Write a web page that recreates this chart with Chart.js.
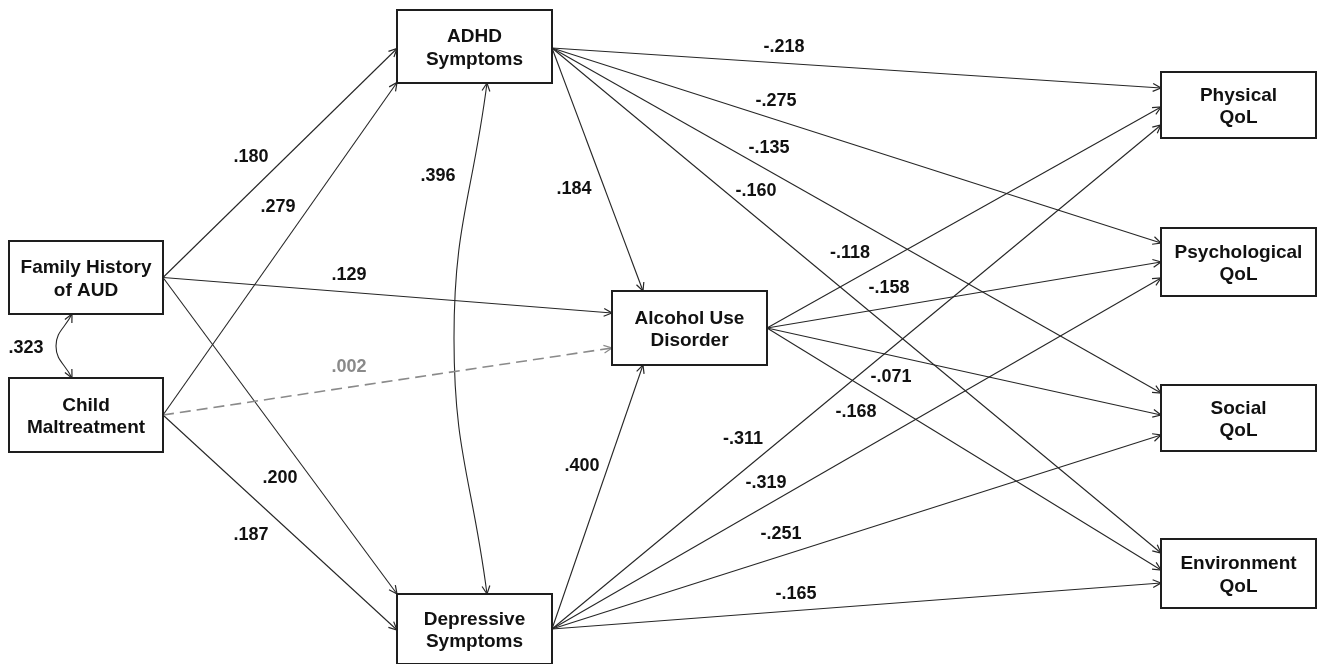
<!DOCTYPE html>
<html>
<head>
<meta charset="utf-8">
<script src="https://cdn.jsdelivr.net/npm/chart.js@4.4.1/dist/chart.umd.min.js"></script>
<style>
  html, body { margin: 0; padding: 0; background: #fff; }
  canvas { display: block; }
</style>
</head>
<body>
<canvas id="sem" width="1320" height="664"></canvas>
<script>
// Variables of the model (boxes)
const nodeNames = [
    ['Family History', 'of AUD'],
    ['Child', 'Maltreatment'],
    ['ADHD', 'Symptoms'],
    ['Depressive', 'Symptoms'],
    ['Alcohol Use', 'Disorder'],
    ['Physical', 'QoL'],
    ['Psychological', 'QoL'],
    ['Social', 'QoL'],
    ['Environment', 'QoL']
];
// box layout (left, top, width, height) in diagram units
const nodeLeft = [9, 9, 397, 397, 612, 1161, 1161, 1161, 1161];
const nodeTop = [241, 378, 10, 594, 291, 72, 228, 385, 539];
const nodeWidth = [154, 154, 155, 155, 155, 155, 155, 155, 155];
const nodeHeight = [73, 74, 73, 70, 74, 66, 68, 66, 69];

// Paths: from -> to and standardized coefficients
const pathFrom = [0, 1, 0, 1, 0, 1, 2, 2, 3, 2, 2, 2, 2, 4, 4, 4, 4, 3, 3, 3, 3, 0];
const pathTo   = [2, 2, 4, 4, 3, 3, 3, 4, 4, 5, 6, 7, 8, 5, 6, 7, 8, 5, 6, 7, 8, 1];
const pathCoef = [0.180, 0.279, 0.129, 0.002, 0.200, 0.187, 0.396, 0.184, 0.400,
                  -0.218, -0.275, -0.135, -0.160, -0.118, -0.158, -0.071, -0.168,
                  -0.311, -0.319, -0.251, -0.165, 0.323];
const pathSignificant = [1, 1, 1, 0, 1, 1, 1, 1, 1, 1, 1, 1, 1, 1, 1, 1, 1, 1, 1, 1, 1, 1];
const pathCorrelation = [0, 0, 0, 0, 0, 0, 1, 0, 0, 0, 0, 0, 0, 0, 0, 0, 0, 0, 0, 0, 0, 1];

// where each path leaves / enters a box (side + offset from side centre)
const fromSide = ['r','r','r','r','r','r','b','r','r','r','r','r','r','r','r','r','r','r','r','r','r','b'];
const fromOff  = [0, 0, 0, 0, 0, 0, 12.5, 1.5, 0, 1.5, 1.5, 1.5, 1.5, 0, 0, 0, 0, 0, 0, 0, 0, -14];
const toSide   = ['l','l','l','l','l','l','t','t','b','l','l','l','l','l','l','l','l','l','l','l','l','t'];
const toOff    = [2, 36, -15, 20, -35, 1, 12.5, -46.5, -46.5, -17, -19, -25, -20.5, 2, 0, -3, -3.5, 20, 16, 17, 9.5, -14];
const pathBend = [0, 0, 0, 0, 0, 0, -33, 0, 0, 0, 0, 0, 0, 0, 0, 0, 0, 0, 0, 0, 0, -16];

// coefficient label placement
const labelX = [251, 278, 349, 349, 280, 251, 438, 574, 582, 784, 776, 769, 756, 850, 889, 891, 856, 743, 766, 781, 796, 26];
const labelY = [156, 206, 274, 366, 477, 534, 175, 188, 465, 46, 100, 147, 190, 252, 287, 376, 411, 438, 482, 533, 593, 347];

function anchor(n, side, off) {
    const l = nodeLeft[n], t = nodeTop[n], w = nodeWidth[n], h = nodeHeight[n];
    if (side === 'r') return { x: l + w, y: t + h / 2 + off };
    if (side === 'l') return { x: l, y: t + h / 2 + off };
    if (side === 't') return { x: l + w / 2 + off, y: t };
    return { x: l + w / 2 + off, y: t + h };
}

function fmt(v) {
    return (v < 0 ? '-' : '') + Math.abs(v).toFixed(3).slice(1);
}

const datasets = pathFrom.map((f, i) => {
    const a = anchor(f, fromSide[i], fromOff[i]);
    const b = anchor(pathTo[i], toSide[i], toOff[i]);
    const pts = pathBend[i] ? [a, { x: (a.x + b.x) / 2 + pathBend[i], y: (a.y + b.y) / 2 }, b] : [a, b];
    const ns = !pathSignificant[i];
    return {
        label: fmt(pathCoef[i]),
        data: pts,
        showLine: true,
        pointRadius: 0,
        borderColor: ns ? '#8a8a8a' : '#262626',
        borderWidth: ns ? 1.6 : 1.1,
        borderDash: ns ? [11, 6] : [],
        tension: pathBend[i] ? 0.45 : 0,
        clip: false
    };
});

function arrowHead(ctx, x, y, fx, fy) {
    const ang = Math.atan2(y - fy, x - fx);
    const L = 9, s = 0.45;
    ctx.beginPath();
    ctx.moveTo(x - L * Math.cos(ang - s), y - L * Math.sin(ang - s));
    ctx.lineTo(x, y);
    ctx.lineTo(x - L * Math.cos(ang + s), y - L * Math.sin(ang + s));
    ctx.stroke();
}

// boxes, arrowheads and coefficient labels
const diagramPlugin = {
    id: 'diagram',
    afterDatasetsDraw(chart) {
        const ctx = chart.ctx;
        const sx = chart.scales.x, sy = chart.scales.y;
        ctx.save();
        ctx.setLineDash([]);

        // arrowheads
        chart.data.datasets.forEach((ds, i) => {
            const pts = chart.getDatasetMeta(i).data;
            const last = pts[pts.length - 1], prev = pts[pts.length - 2];
            ctx.strokeStyle = ds.borderColor;
            ctx.lineWidth = 1.2;
            let fx = prev.x, fy = prev.y;
            if (last.cp1x !== undefined && (last.cp1x !== last.x || last.cp1y !== last.y)) { fx = last.cp1x; fy = last.cp1y; }
            arrowHead(ctx, last.x, last.y, fx, fy);
            if (pathCorrelation[i]) {
                const first = pts[0], next = pts[1];
                let gx = next.x, gy = next.y;
                if (first.cp2x !== undefined && (first.cp2x !== first.x || first.cp2y !== first.y)) { gx = first.cp2x; gy = first.cp2y; }
                arrowHead(ctx, first.x, first.y, gx, gy);
            }
        });

        // boxes
        nodeNames.forEach((lines, n) => {
            const x0 = sx.getPixelForValue(nodeLeft[n]);
            const x1 = sx.getPixelForValue(nodeLeft[n] + nodeWidth[n]);
            const y0 = sy.getPixelForValue(nodeTop[n]);
            const y1 = sy.getPixelForValue(nodeTop[n] + nodeHeight[n]);
            ctx.fillStyle = '#fff';
            ctx.fillRect(x0, y0, x1 - x0, y1 - y0);
            ctx.strokeStyle = '#1e1e1e';
            ctx.lineWidth = 2;
            ctx.strokeRect(x0, y0, x1 - x0, y1 - y0);
            ctx.fillStyle = '#111';
            ctx.font = 'bold 19px "Liberation Sans", Arial, sans-serif';
            ctx.textAlign = 'center';
            ctx.textBaseline = 'alphabetic';
            const cx = (x0 + x1) / 2, cy = (y0 + y1) / 2;
            ctx.fillText(lines[0], cx, cy - 11.3 + 6.8);
            ctx.fillText(lines[1], cx, cy + 11.3 + 6.8);
        });

        // coefficients
        ctx.font = 'bold 18px "Liberation Sans", Arial, sans-serif';
        ctx.textAlign = 'center';
        ctx.textBaseline = 'middle';
        pathCoef.forEach((v, i) => {
            ctx.fillStyle = pathSignificant[i] ? '#111' : '#8a8a8a';
            ctx.fillText(fmt(v), sx.getPixelForValue(labelX[i]), sy.getPixelForValue(labelY[i]) + 1);
        });
        ctx.restore();
    }
};

new Chart(document.getElementById('sem'), {
    type: 'scatter',
    data: { datasets: datasets },
    options: {
        responsive: false,
        animation: false,
        events: [],
        layout: { padding: 0 },
        plugins: {
            legend: { display: false },
            tooltip: { enabled: false }
        },
        scales: {
            x: { type: 'linear', min: 0, max: 1320, display: false },
            y: { type: 'linear', min: 0, max: 664, reverse: true, display: false }
        }
    },
    plugins: [diagramPlugin]
});
</script>
</body>
</html>
